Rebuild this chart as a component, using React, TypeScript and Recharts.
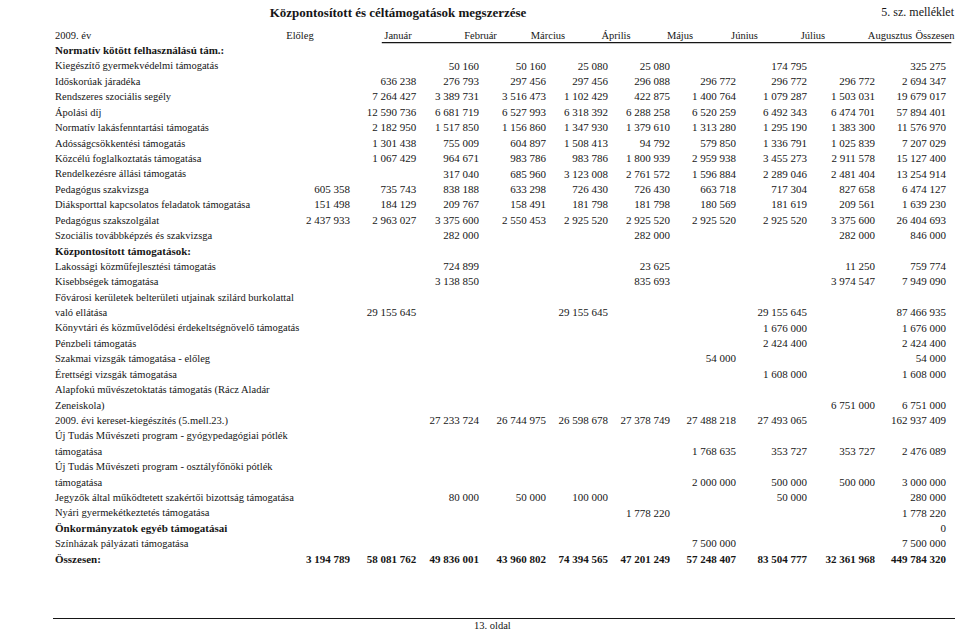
import { ScatterChart, Scatter, XAxis, YAxis, ReferenceLine } from "recharts";

const columns = [
  "Előleg",
  "Január",
  "Február",
  "Március",
  "Április",
  "Május",
  "Június",
  "Július",
  "Augusztus",
  "Összesen",
];

const rowLabels = [
  "2009. év",
  "Normatív kötött felhasználású tám.:",
  "Kiegészítő gyermekvédelmi támogatás",
  "Időskorúak járadéka",
  "Rendszeres szociális segély",
  "Ápolási díj",
  "Normatív lakásfenntartási támogatás",
  "Adósságcsökkentési támogatás",
  "Közcélú foglalkoztatás támogatása",
  "Rendelkezésre állási támogatás",
  "Pedagógus szakvizsga",
  "Diáksporttal kapcsolatos feladatok támogatása",
  "Pedagógus szakszolgálat",
  "Szociális továbbképzés és szakvizsga",
  "Központosított támogatások:",
  "Lakossági közműfejlesztési támogatás",
  "Kisebbségek támogatása",
  "Fővárosi kerületek belterületi utjainak szilárd burkolattal\nvaló ellátása",
  "Könyvtári és közművelődési érdekeltségnövelő támogatás",
  "Pénzbeli támogatás",
  "Szakmai vizsgák támogatása - előleg",
  "Érettségi vizsgák támogatása",
  "Alapfokú művészetoktatás támogatás (Rácz Aladár\nZeneiskola)",
  "2009. évi kereset-kiegészítés (5.mell.23.)",
  "Új Tudás Művészeti program - gyógypedagógiai pótlék\ntámogatása",
  "Új Tudás Művészeti program - osztályfőnöki pótlék\ntámogatása",
  "Jegyzők által működtetett szakértői bizottság támogatása",
  "Nyári gyermekétkeztetés támogatása",
  "Önkormányzatok egyéb támogatásai",
  "Színházak pályázati támogatása",
  "Összesen:",
];

const boldLabels = [
  "Normatív kötött felhasználású tám.:",
  "Központosított támogatások:",
  "Önkormányzatok egyéb támogatásai",
  "Összesen:",
];

const totalLabel = "Összesen:";

// one array per row, columns in the order above (Előleg ... Összesen)
const rowValues: (number | null)[][] = [
  [],
  [],
  [null, null, 50160, 50160, 25080, 25080, null, 174795, null, 325275],
  [null, 636238, 276793, 297456, 297456, 296088, 296772, 296772, 296772, 2694347],
  [null, 7264427, 3389731, 3516473, 1102429, 422875, 1400764, 1079287, 1503031, 19679017],
  [null, 12590736, 6681719, 6527993, 6318392, 6288258, 6520259, 6492343, 6474701, 57894401],
  [null, 2182950, 1517850, 1156860, 1347930, 1379610, 1313280, 1295190, 1383300, 11576970],
  [null, 1301438, 755009, 604897, 1508413, 94792, 579850, 1336791, 1025839, 7207029],
  [null, 1067429, 964671, 983786, 983786, 1800939, 2959938, 3455273, 2911578, 15127400],
  [null, null, 317040, 685960, 3123008, 2761572, 1596884, 2289046, 2481404, 13254914],
  [605358, 735743, 838188, 633298, 726430, 726430, 663718, 717304, 827658, 6474127],
  [151498, 184129, 209767, 158491, 181798, 181798, 180569, 181619, 209561, 1639230],
  [2437933, 2963027, 3375600, 2550453, 2925520, 2925520, 2925520, 2925520, 3375600, 26404693],
  [null, null, 282000, null, null, 282000, null, null, 282000, 846000],
  [],
  [null, null, 724899, null, null, 23625, null, null, 11250, 759774],
  [null, null, 3138850, null, null, 835693, null, null, 3974547, 7949090],
  [null, 29155645, null, null, 29155645, null, null, 29155645, null, 87466935],
  [null, null, null, null, null, null, null, 1676000, null, 1676000],
  [null, null, null, null, null, null, null, 2424400, null, 2424400],
  [null, null, null, null, null, null, 54000, null, null, 54000],
  [null, null, null, null, null, null, null, 1608000, null, 1608000],
  [null, null, null, null, null, null, null, null, 6751000, 6751000],
  [null, null, 27233724, 26744975, 26598678, 27378749, 27488218, 27493065, null, 162937409],
  [null, null, null, null, null, null, 1768635, 353727, 353727, 2476089],
  [null, null, null, null, null, null, 2000000, 500000, 500000, 3000000],
  [null, null, 80000, 50000, 100000, null, null, 50000, null, 280000],
  [null, null, null, null, null, 1778220, null, null, null, 1778220],
  [null, null, null, null, null, null, null, null, null, 0],
  [null, null, null, null, null, null, 7500000, null, null, 7500000],
  [3194789, 58081762, 49836001, 43960802, 74394565, 47201249, 57248407, 83504777, 32361968, 449784320],
];

const FONT = "'Liberation Serif', 'DejaVu Serif', serif";
const INK = "#161616";
const LABEL_X = 55;
// the printed columns are not evenly wide: nudge figures and captions
const colShift = [0, 0, -3.4, -2.7, -6.9, -11.1, -11.3, -6.6, -4.8, 0];
const headerShift = [-50, -18.2, -1.9, -0.7, 1.1, -1.1, -2.8, -0.6, 10.2, -11];

const fmt = (v: number) => String(v).replace(/\B(?=(\d{3})+(?!\d))/g, " ");

// every label line gets one slot on the y axis; numbers sit on the last line
const slots: { text: string; bold: boolean }[] = [];
const cells: { x: number; y: number; text: string; bold: boolean }[] = [];
rowLabels.forEach((label, r) => {
  const bold = boldLabels.includes(label);
  label.split("\n").forEach((line) => slots.push({ text: line, bold }));
  const y = slots.length - 1;
  (rowValues[r] || []).forEach((v, c) => {
    if (v !== null && v !== undefined)
      cells.push({ x: c, y, text: fmt(v), bold: label === totalLabel });
  });
});

const slotTicks = slots.map((_, i) => i);
const columnTicks = columns.map((_, i) => i);

const RowLabel = (props: any) => {
  const s = slots[props.payload.value];
  if (!s) return null;
  return (
    <text
      x={LABEL_X}
      y={props.y}
      dy="0.35em"
      textAnchor="start"
      fontFamily={FONT}
      fontSize={s.bold ? 11 : 10.5}
      fontWeight={s.bold ? 700 : 400}
      fill={INK}
    >
      {s.text}
    </text>
  );
};

const ColumnHeader = (props: any) => {
  const i = props.payload.value;
  return (
    <text
      x={props.x + headerShift[i]}
      y={35}
      dy="0.35em"
      textAnchor="middle"
      fontFamily={FONT}
      fontSize={10.5}
      fill={INK}
    >
      {columns[i]}
    </text>
  );
};

const Cell = (props: any) => {
  const p = props.payload;
  return (
    <text
      x={props.cx + colShift[p.x]}
      y={props.cy}
      dy="0.35em"
      textAnchor="end"
      fontFamily={FONT}
      fontSize={11}
      fontWeight={p.bold ? 700 : 400}
      fill={INK}
    >
      {p.text}
    </text>
  );
};

export default function App() {
  return (
    <div
      style={{
        position: "absolute",
        left: 0,
        top: 0,
        width: 960,
        height: 633,
        background: "#fff",
        fontFamily: FONT,
        color: INK,
      }}
    >
      <div
        style={{
          position: "absolute",
          left: 0,
          width: 796,
          top: 4,
          textAlign: "center",
          fontSize: 13,
          fontWeight: 700,
          lineHeight: "17px",
        }}
      >
        Központosított és céltámogatások megszerzése
      </div>
      <div
        style={{
          position: "absolute",
          right: 6,
          top: 4,
          fontSize: 12,
          lineHeight: "17px",
        }}
      >
        5. sz. melléklet
      </div>

      <div style={{ position: "absolute", left: 0, top: 0 }}>
        <ScatterChart
          width={960}
          height={570}
          margin={{ top: 34, right: 14, bottom: 11, left: 0 }}
        >
          <XAxis
            type="number"
            dataKey="x"
            orientation="top"
            height={1}
            domain={[0, columns.length - 1]}
            ticks={columnTicks}
            interval={0}
            axisLine={false}
            tickLine={false}
            tick={<ColumnHeader />}
          />
          <YAxis
            type="number"
            dataKey="y"
            width={350}
            reversed
            domain={[0, slots.length - 1]}
            ticks={slotTicks}
            interval={0}
            axisLine={false}
            tickLine={false}
            tick={<RowLabel />}
          />
          <ReferenceLine
            segment={[
              { x: 0.48, y: 0.5 },
              { x: 9.08, y: 0.5 },
            ]}
            stroke={INK}
            strokeWidth={1.2}
            ifOverflow="visible"
          />
          <Scatter data={cells} shape={<Cell />} isAnimationActive={false} />
        </ScatterChart>
      </div>

      <div
        style={{
          position: "absolute",
          left: 53,
          width: 902,
          top: 618,
          borderTop: `1.2px solid ${INK}`,
        }}
      />
      <div
        style={{
          position: "absolute",
          left: 474,
          top: 620,
          fontSize: 10.5,
          lineHeight: "12px",
        }}
      >
        13. oldal
      </div>
    </div>
  );
}
